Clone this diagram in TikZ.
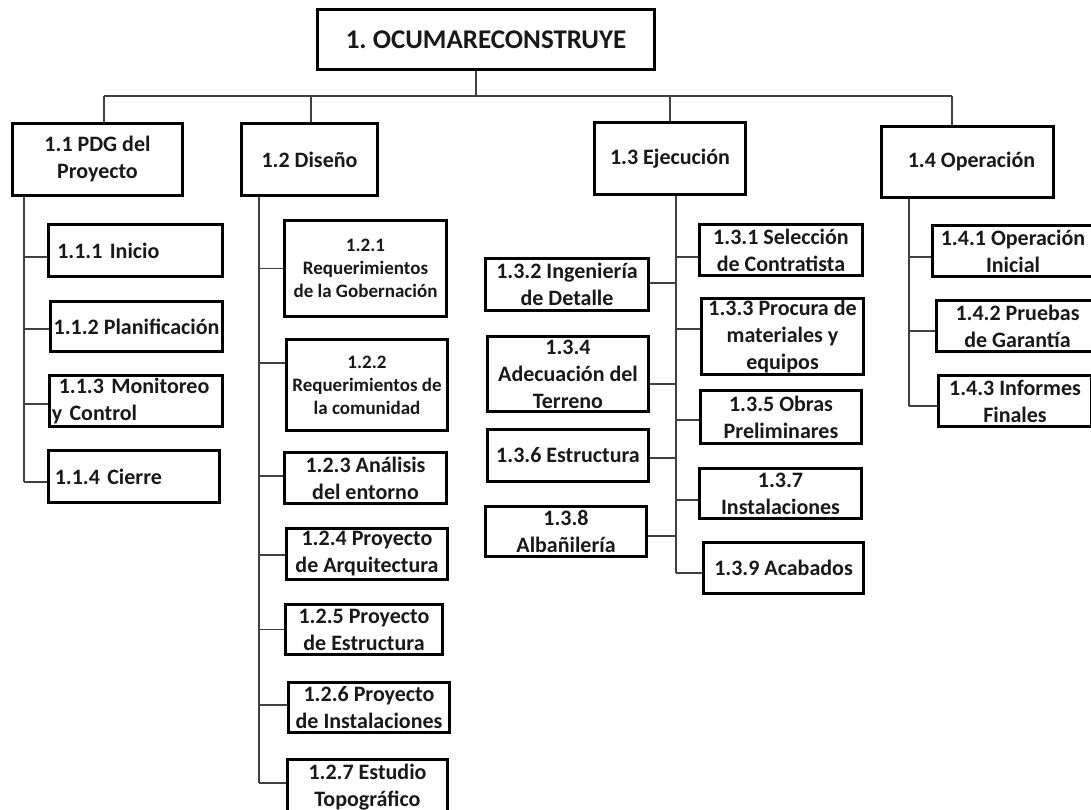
\documentclass[tikz,border=0pt]{standalone}
\usepackage{fontspec}
\setmainfont{Carlito}
\frenchspacing
\begin{document}
\begin{tikzpicture}[x=1pt,y=-1pt,
  box/.style={draw, line width=2.6pt, inner sep=1pt, align=center, text=black!90,
              font=\bfseries\fontsize{22}{27}\selectfont},
  smallbox/.style={box, font=\bfseries\fontsize{19}{23}\selectfont},
  rootbox/.style={box, font=\bfseries\fontsize{27}{32}\selectfont},
  sz/.style 2 args={minimum width=#1pt-2.6pt, minimum height=#2pt-2.6pt},
  leftbox/.style={box, align=left, inner xsep=#1},
  conn/.style={draw=black!75, line width=1.4pt}]
\clip (0,0) rectangle (1091,810);
\fill[white] (0,0) rectangle (1091,810);

% root and level 1
\node[rootbox, sz={340}{63}] (root) at (486,39.5) {1. OCUMARECONSTRUYE};
\node[box, sz={173}{75}] (a11) at (97.5,159.5) {1.1 PDG del\\Proyecto};
\node[box, sz={139}{75}] (a12) at (309.5,159.5) {1.2 Diseño};
\node[box, sz={154}{75}] (a13) at (670,158.5) {1.3 Ejecución};
\node[box, sz={175}{74}] (a14) at (967.5,162) {\hspace*{8pt}1.4 Operación};

% 1.1 children
\node[leftbox=9pt, text width=156.4pt, minimum height=52.4pt] (c111) at (135.5,250.5) {1.1.1 Inicio};
\node[box, sz={175}{53}] (c112) at (136.5,326.5) {1.1.2 Planificación};
\node[leftbox=2.5pt, text width=168.4pt, minimum height=51.4pt] (c113) at (136,401) {\hspace*{7pt}1.1.3 Monitoreo\\y Control};
\node[leftbox=6.5pt, text width=158.4pt, minimum height=52.4pt] (c114) at (134,476.5) {1.1.4 Cierre};

% 1.2 children
\node[smallbox, sz={165}{99}] (c121) at (365.5,268.5) {1.2.1\\Requerimientos\\de la Gobernación};
\node[smallbox, sz={164}{94}] (c122) at (367,385) {1.2.2\\Requerimientos de\\la comunidad};
\node[box, sz={165}{54}] (c123) at (365.5,478) {1.2.3 Análisis\\del entorno};
\node[box, sz={164}{54}] (c124) at (367,554) {1.2.4 Proyecto\\de Arquitectura};
\node[box, sz={160}{53}] (c125) at (364,629.5) {1.2.5 Proyecto\\de Estructura};
\node[box, sz={164}{53}] (c126) at (369,707.5) {1.2.6 Proyecto\\de Instalaciones};
\node[box, sz={163}{58}] (c127) at (367.5,787) {1.2.7 Estudio\\Topográfico};

% 1.3 children
\node[box, sz={166}{54}] (c131) at (781,250) {1.3.1 Selección\\de Contratista};
\node[box, sz={166}{55}] (c132) at (567,284.5) {1.3.2 Ingeniería\\de Detalle};
\node[box, sz={165}{79}] (c133) at (782.5,336.5) {1.3.3 Procura de\\materiales y\\equipos};
\node[box, sz={164}{78}] (c134) at (568,374) {1.3.4\\Adecuación del\\Terreno};
\node[box, sz={164}{56}] (c135) at (781,417) {1.3.5 Obras\\Preliminares};
\node[box, sz={164}{55}] (c136) at (568,455.5) {1.3.6 Estructura};
\node[box, sz={165}{53}] (c137) at (780.5,493.5) {1.3.7\\Instalaciones};
\node[box, sz={164}{53}] (c138) at (566,531.5) {1.3.8\\Albañilería};
\node[box, sz={163}{54}] (c139) at (783.5,568) {1.3.9 Acabados};

% 1.4 children
\node[box, sz={164}{54}] (c141) at (1013,251) {1.4.1 Operación\\Inicial};
\node[box, sz={165}{54}] (c142) at (1017.5,326) {1.4.2 Pruebas\\de Garantía};
\node[box, sz={156}{54}] (c143) at (1015,401) {1.4.3 Informes\\Finales};

% top bus
\coordinate (d0) at (476,96);
\coordinate (d1) at (104,96);
\coordinate (d2) at (311,96);
\coordinate (d3) at (670,96);
\coordinate (d4) at (952,96);
\draw[conn] (d1) -- (d4);
\draw[conn] (root.south -| d0) -- (d0);
\draw[conn] (d1) -- (d1 |- a11.north);
\draw[conn] (d2) -- (d2 |- a12.north);
\draw[conn] (d3) -- (d3 |- a13.north);
\draw[conn] (d4) -- (d4 |- a14.north);

% spines
\coordinate (s1) at (24,0);
\coordinate (s2) at (259,0);
\coordinate (s3) at (676,0);
\coordinate (s4) at (909,0);

% connector points
\coordinate (k111) at ([yshift=-6.5pt]c111.west);
\coordinate (k112) at ([yshift=-2.5pt]c112.west);
\coordinate (k113) at ([yshift=-3pt]c113.west);
\coordinate (k114) at ([yshift=-5.5pt]c114.west);
\coordinate (k121) at (c121.west);
\coordinate (k122) at ([yshift=22pt]c122.west);
\coordinate (k123) at ([yshift=2pt]c123.west);
\coordinate (k124) at ([yshift=-1pt]c124.west);
\coordinate (k125) at (c125.west);
\coordinate (k126) at ([yshift=2.5pt]c126.west);
\coordinate (k127) at ([yshift=4pt]c127.west);
\coordinate (k131) at ([yshift=-7pt]c131.west);
\coordinate (k133) at ([yshift=7.5pt]c133.west);
\coordinate (k135) at ([yshift=-3pt]c135.west);
\coordinate (k137) at ([yshift=-6.5pt]c137.west);
\coordinate (k139) at ([yshift=-5pt]c139.west);
\coordinate (k132) at ([yshift=1.5pt]c132.east);
\coordinate (k134) at ([yshift=-10pt]c134.east);
\coordinate (k136) at ([yshift=-2.5pt]c136.east);
\coordinate (k138) at ([yshift=-4.5pt]c138.east);
\coordinate (k141) at ([yshift=-6pt]c141.west);
\coordinate (k142) at ([yshift=-5pt]c142.west);
\coordinate (k143) at ([yshift=-5pt]c143.west);

\draw[conn] (a11.south -| s1) -- (k114 -| s1);
\draw[conn] (a12.south -| s2) -- (k127 -| s2);
\draw[conn] (a13.south -| s3) -- (k139 -| s3);
\draw[conn] (a14.south -| s4) -- (k143 -| s4);

\foreach \k in {111,112,113,114}{\draw[conn] (k\k -| s1) -- (k\k);}
\foreach \k in {121,122,123,124,125,126,127}{\draw[conn] (k\k -| s2) -- (k\k);}
\foreach \k in {131,132,133,134,135,136,137,138,139}{\draw[conn] (k\k -| s3) -- (k\k);}
\foreach \k in {141,142,143}{\draw[conn] (k\k -| s4) -- (k\k);}
\end{tikzpicture}
\end{document}
